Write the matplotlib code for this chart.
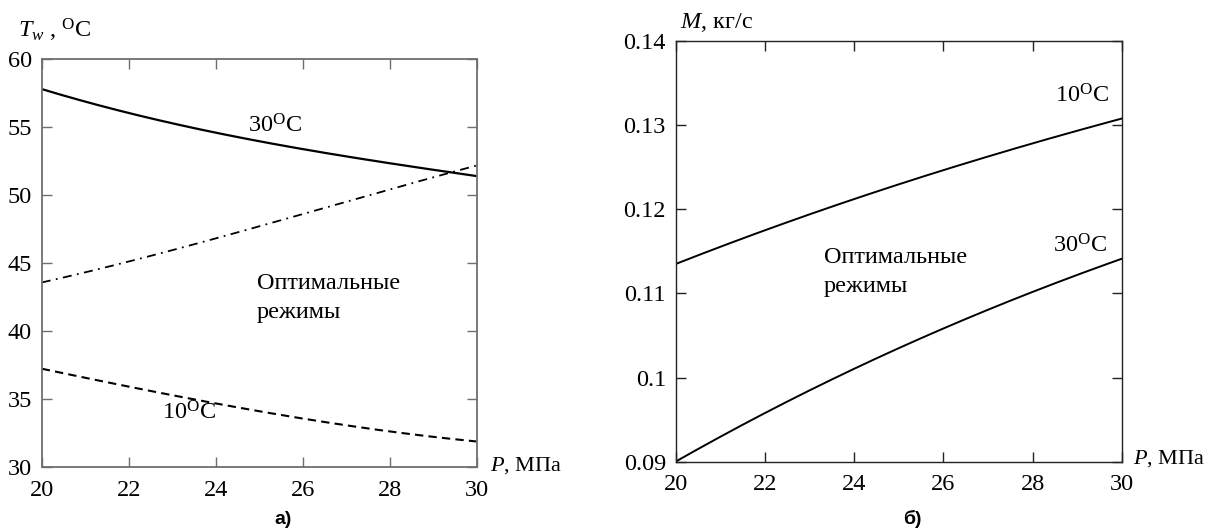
import numpy as np
import matplotlib
matplotlib.use('Agg')
import matplotlib.pyplot as plt

plt.rcParams['font.family'] = ['Liberation Serif', 'DejaVu Serif']
plt.rcParams['mathtext.fontset'] = 'custom'
plt.rcParams['mathtext.rm'] = 'Liberation Serif'
plt.rcParams['mathtext.it'] = 'Liberation Serif:italic'

# pressure, MPa
P = [20, 22, 24, 26, 28, 30]

# a) water temperature Tw, °C
tw_30 = [57.8, 56.0, 54.6, 53.4, 52.3, 51.4]
tw_mid = [43.6, 45.05, 46.9, 48.6, 50.4, 52.2]
tw_10 = [37.25, 35.9, 34.7, 33.6, 32.6, 31.9]

# b) mass flow M, kg/s
m_10 = [0.1135, 0.1175, 0.1212, 0.1247, 0.1278, 0.1308]
m_30 = [0.0900, 0.0958, 0.1011, 0.1057, 0.1103, 0.1141]

deg = r'$^{\mathrm{O}}$C'
fs = 17.5

fig = plt.figure(figsize=(12.10, 5.31), dpi=100)
ax1 = fig.add_axes([0.0345, 0.12, 0.36, 0.7689])
ax2 = fig.add_axes([0.5584, 0.1305, 0.3689, 0.7923])

# smooth curves through the read points
def smooth(x, y):
    xs = np.linspace(x[0], x[-1], 200)
    c = np.polyfit(x, y, 3)
    return xs, np.polyval(c, xs)

x, y = smooth(P, tw_30)
ax1.plot(x, y, color='black', lw=1.6)
x, y = smooth(P, tw_mid)
ax1.plot(x, y, color='black', lw=1.3, dashes=(5, 3, 1, 3))
x, y = smooth(P, tw_10)
ax1.plot(x, y, color='black', lw=1.5, dashes=(4, 2.5))

ax1.set_xlim(20, 30)
ax1.set_ylim(30, 60)
ax1.set_xticks([20, 22, 24, 26, 28, 30])
ax1.set_yticks([30, 35, 40, 45, 50, 55, 60])
for s in ax1.spines.values():
    s.set_color('#6e6e6e')
    s.set_linewidth(1.3)
ax1.tick_params(direction='in', length=7, width=1.0, color='#6e6e6e',
                top=True, right=True, labelsize=fs)
ax1.tick_params(axis='x', pad=9)
ax1.tick_params(axis='y', pad=7)

ax1.text(24.73, 55.1, '30' + deg, fontsize=fs, va='center')
ax1.text(22.76, 34.0, '10' + deg, fontsize=fs, va='center')
ax1.text(24.94, 43.5, 'Оптимальные', fontsize=fs, va='center')
ax1.text(24.94, 41.4, 'режимы', fontsize=fs, va='center')

x, y = smooth(P, m_10)
ax2.plot(x, y, color='black', lw=1.4)
x, y = smooth(P, m_30)
ax2.plot(x, y, color='black', lw=1.4)

ax2.set_xlim(20, 30)
ax2.set_ylim(0.09, 0.14)
ax2.set_xticks([20, 22, 24, 26, 28, 30])
ax2.set_yticks([0.09, 0.10, 0.11, 0.12, 0.13, 0.14])
ax2.set_yticklabels(['0.09', '0.1', '0.11', '0.12', '0.13', '0.14'])
for s in ax2.spines.values():
    s.set_color('#222222')
    s.set_linewidth(1.0)
ax2.tick_params(direction='in', length=7, width=1.0, color='#222222',
                top=True, right=True, labelsize=fs)
ax2.tick_params(axis='x', pad=9)
ax2.tick_params(axis='y', pad=7)

ax2.text(28.5, 0.1335, '10' + deg, fontsize=fs, va='center')
ax2.text(28.46, 0.1157, '30' + deg, fontsize=fs, va='center')
ax2.text(23.32, 0.1143, 'Оптимальные', fontsize=fs, va='center')
ax2.text(23.32, 0.1108, 'режимы', fontsize=fs, va='center')

# axis titles
fig.text(18 / 1210, 1 - 30 / 531, r'$T_w$ , ' + deg, fontsize=fs, va='center')
fig.text(680 / 1210, 1 - 22 / 531, r'$M$, кг/с', fontsize=fs, va='center')
fig.text(490 / 1210, 1 - 466 / 531, r'$P$, МПа', fontsize=16, va='center')
fig.text(1133 / 1210, 1 - 459 / 531, r'$P$, МПа', fontsize=16, va='center')

# panel captions
fig.text(283 / 1210, 1 - 519 / 531, 'а)', fontsize=14, fontweight='bold',
         family=['Liberation Sans', 'DejaVu Sans'], ha='center', va='center')
fig.text(912 / 1210, 1 - 519 / 531, 'б)', fontsize=14, fontweight='bold',
         family=['Liberation Sans', 'DejaVu Sans'], ha='center', va='center')

fig.savefig('out.png', dpi=100)
